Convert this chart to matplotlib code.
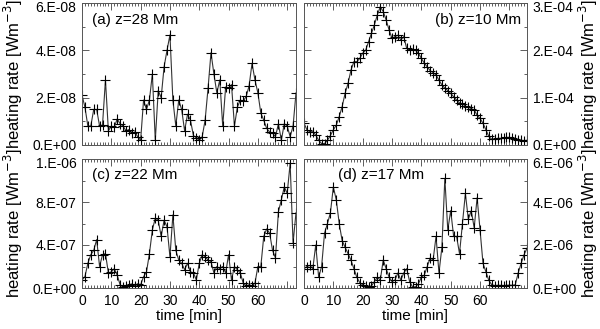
import numpy as np
import matplotlib
matplotlib.use('Agg')
import matplotlib.pyplot as plt
from matplotlib.ticker import MultipleLocator, FixedLocator, FuncFormatter
from matplotlib.transforms import ScaledTranslation

plt.rcParams['font.family'] = ['Liberation Sans', 'DejaVu Sans']

# --- данные (минуты, шаг 1 мин) ---
# (a) z=28 Mm, единицы 1e-8 W m^-3
rate_a = [2.1, 1.6, 0.8, 0.8, 1.5, 1.5, 0.8, 0.85, 2.75, 0.6,
          0.8, 0.75, 1.1, 0.9, 0.8, 0.6, 0.65, 0.5, 0.55, 0.35,
          0.2, 1.9, 1.5, 1.9, 3.0, 0.2, 2.3, 2.0, 3.3, 4.0,
          4.65, 1.9, 0.8, 1.9, 1.5, 0.6, 1.3, 1.05, 0.4, 0.3,
          0.2, 0.35, 1.05, 2.4, 3.9, 3.0, 2.2, 2.75, 0.8, 2.45,
          2.4, 2.55, 0.8, 1.6, 1.9, 1.85, 2.05, 2.5, 3.45, 2.75,
          2.2, 1.35, 1.05, 0.7, 0.55, 0.5, 0.35, 0.9, 0.2, 0.9,
          0.8, 0.35, 0.8, 2.2]
# (b) z=10 Mm, единицы 1e-4
rate_b = [0.46, 0.32, 0.28, 0.28, 0.21, 0.1, 0.03, 0.03, 0.1, 0.2,
          0.32, 0.42, 0.6, 0.81, 1.09, 1.3, 1.58, 1.76, 1.76, 1.83,
          1.94, 2.0, 2.18, 2.36, 2.54, 2.75, 2.92, 2.82, 2.64, 2.43,
          2.25, 2.29, 2.32, 2.22, 2.29, 2.04, 2.0, 2.02, 2.0, 1.94,
          1.83, 1.73, 1.65, 1.57, 1.53, 1.48, 1.37, 1.27, 1.2, 1.15,
          1.09, 1.02, 0.95, 0.89, 0.87, 0.82, 0.8, 0.77, 0.74, 0.63,
          0.56, 0.46, 0.32, 0.18, 0.12, 0.12, 0.14, 0.14, 0.14, 0.16,
          0.16, 0.14, 0.12, 0.1, 0.1, 0.09, 0.1]
# (c) z=22 Mm, единицы 1e-7
rate_c = [0.75, 1.05, 2.3, 3.1, 3.5, 4.5, 2.0, 3.1, 3.2, 1.4,
          1.5, 1.8, 1.2, 0.3, 0.12, 0.18, 0.3, 0.38, 0.18, 0.4,
          0.3, 1.05, 1.5, 3.2, 5.4, 6.5, 6.3, 4.8, 6.3, 5.7,
          2.9, 6.8, 3.5, 2.6, 2.3, 1.7, 2.3, 1.5, 1.4, 0.75,
          2.3, 3.1, 2.9, 2.6, 2.45, 1.4, 2.0, 1.8, 2.0, 1.4,
          3.1, 0.75, 2.0, 1.7, 1.4, 0.45, 0.2, 0.3, 0.2, 0.45,
          2.0, 2.0, 4.8, 5.5, 5.1, 3.5, 2.8, 7.1, 8.2, 9.4,
          8.8, 11.6, 4.2, 7.0]
# (d) z=17 Mm, единицы 1e-6
rate_d = [0.9, 1.0, 1.05, 0.9, 2.0, 0.5, 1.0, 2.55, 3.0, 3.5,
          4.7, 4.1, 3.0, 2.2, 1.9, 1.6, 1.3, 0.9, 0.5, 0.25,
          0.15, 0.1, 0.06, 0.1, 0.3, 0.5, 0.37, 1.3, 0.9, 0.5,
          0.3, 0.37, 0.7, 0.37, 0.7, 0.9, 0.3, 0.05, 0.05, 0.2,
          0.5, 0.6, 1.0, 1.4, 1.3, 2.4, 0.7, 1.9, 5.1, 2.7,
          3.6, 2.4, 2.4, 1.6, 3.0, 4.4, 3.2, 3.6, 2.8, 4.2,
          2.7, 1.15, 0.75, 0.35, 0.15, 0.11, 0.12, 0.12, 0.11, 0.12,
          0.13, 0.12, 0.15, 0.7, 1.15, 1.55, 1.85]

labels = ['(a) z=28 Mm', '(b) z=10 Mm', '(c) z=22 Mm', '(d) z=17 Mm']
scales = [1e-8, 1e-4, 1e-7, 1e-6]
yticks = [[0, 2e-8, 4e-8, 6e-8], [0, 1e-4, 2e-4, 3e-4],
          [0, 4e-7, 8e-7, 1.2e-6], [0, 2e-6, 4e-6, 6e-6]]
xmax = [73, 76, 73, 76]


def fmt_e(v, pos=None):
    # подписи в стиле IDL: 6.E-08, 0.E+00
    if v <= 0:
        return '0.E+00'
    e = int(np.floor(np.log10(v) + 1e-9))
    m = int(v / 10**e + 1e-9)
    return f'{m}.E{e:+03d}'


def fmt_t(v, pos=None):
    # подпись 70 не показывается
    return '' if v > 65 else f'{v:.0f}'


W, H = 600, 329
fig = plt.figure(figsize=(W / 100, H / 100), dpi=100)

# позиции панелей в пикселях: (x0, x1, y_top, y_bottom)
boxes = [(82, 296, 3, 145), (304, 527, 3, 145),
         (82, 296, 159, 288), (304, 527, 159, 288)]
series = [rate_a, rate_b, rate_c, rate_d]
# положение подписи панели (x, y в долях осей, выравнивание)
label_pos = [(0.045, 0.88, 'left'), (0.975, 0.88, 'right'),
             (0.045, 0.875, 'left'), (0.152, 0.875, 'left')]

axes = []
for i, (x0, x1, yt, yb) in enumerate(boxes):
    ax = fig.add_axes([x0 / W, 1 - yb / H, (x1 - x0) / W, (yb - yt) / H])
    vals = np.array(series[i]) * scales[i]
    t = np.arange(len(vals))
    ax.plot(t, vals, color='#333333', lw=0.8, marker='+', ms=7.5,
            mew=0.8, mec='black')
    ax.set_xlim(0, xmax[i])
    ax.set_ylim(yticks[i][0], yticks[i][-1])
    ax.xaxis.set_major_locator(MultipleLocator(10))
    ax.xaxis.set_minor_locator(MultipleLocator(1))
    ax.xaxis.set_major_formatter(FuncFormatter(fmt_t))
    ax.yaxis.set_major_locator(FixedLocator(yticks[i]))
    step = yticks[i][1] - yticks[i][0]
    ax.yaxis.set_minor_locator(MultipleLocator(step / 2))
    ax.yaxis.set_major_formatter(FuncFormatter(fmt_e))
    ax.tick_params(which='both', direction='in', top=True, right=True,
                   labelsize=10, color='#444444', width=0.6)
    ax.tick_params(which='major', length=5, pad=4)
    ax.tick_params(which='minor', length=2.5)
    for s in ax.spines.values():
        s.set_linewidth(0.7)
        s.set_color('#555555')
    if i < 2:
        ax.tick_params(labelbottom=False)
    else:
        ax.set_xlabel('time [min]', fontsize=11, labelpad=1)
    ylab = ax.set_ylabel('heating rate [Wm$^{-3}$]', fontsize=12)
    w_ax = x1 - x0
    if i % 2 == 1:
        ax.tick_params(labelleft=False, labelright=True)
        ax.yaxis.set_label_position('right')
        ax.yaxis.set_label_coords((577 - x0) / w_ax, 0.5)
        ylab.set_rotation(90)
    else:
        ax.yaxis.set_label_coords((25 - x0) / w_ax, 0.5)
    lx, ly, ha = label_pos[i]
    ax.text(lx, ly, labels[i], transform=ax.transAxes,
            ha=ha, va='center', fontsize=11)
    axes.append(ax)

# верхнюю подпись оси y сдвигаем немного вниз, как в оригинале
fig.canvas.draw()
shift = ScaledTranslation(0, -0.04, fig.dpi_scale_trans)
for ax in axes:
    top_tick = ax.yaxis.get_major_ticks()[-1]
    for lab in (top_tick.label1, top_tick.label2):
        lab.set_transform(lab.get_transform() + shift)

fig.savefig('out.png', dpi=100)
